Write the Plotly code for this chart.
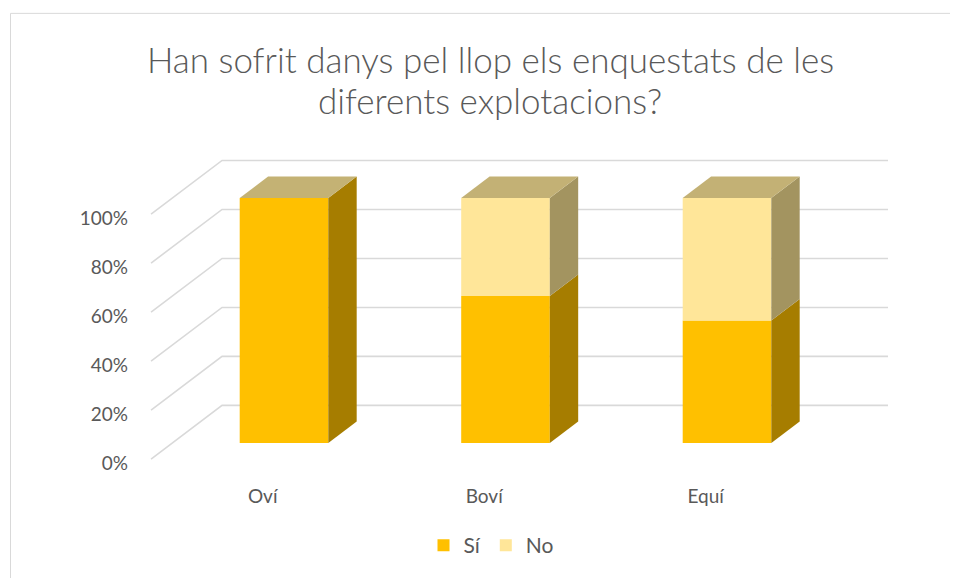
import plotly.graph_objects as go

# ---- data ----
categories = ["Oví", "Boví", "Equí"]
si_values = [100, 60, 50]
no_values = [0, 40, 50]
series_names = ["Sí", "No"]
tick_values = [0, 20, 40, 60, 80, 100]
tick_labels = ["0%", "20%", "40%", "60%", "80%", "100%"]
title_lines = ["Han sofrit danys pel llop els enquestats de les", "diferents explotacions?"]

# ---- styling / geometry constants ----
FRONT_COL = {"Sí": "#FFC000", "No": "#FFE699"}
SIDE_COL = {"Sí": "#A67D00", "No": "#A39460"}
TOP_COL = {"Sí": "#C4B274", "No": "#C3B175"}
GRID_COL = "#D9D9D9"
TXT = "#595959"
FONT = "Lato"

FLOOR_DX = 0.3205   # depth of the floor in x units
FLOOR_DY = 21.9     # depth of the floor in y units
FRONT = 0.3         # bar front position as a fraction of the depth
DEPTH = 0.4         # bar depth as a fraction of floor depth
BAR_W = 0.4
WALL_X = -0.504
WALL_END = 2.823
LABEL_DROP = 1.7    # y tick labels sit slightly below the gridline ends

sx, sy = FRONT * FLOOR_DX, FRONT * FLOOR_DY
ddx, ddy = DEPTH * FLOOR_DX, DEPTH * FLOOR_DY
pos = list(range(len(categories)))

# window geometry (page has an 8px body margin)
OFF = 8
W, H = 958, 578
L, R, T_, B = 140, 900, 150, 470
Y0_PX, Y_SCALE = 461.0, 2.465
X0_PX, X_SCALE = 262.7, 221.5

fig = go.Figure()

# front faces (stacked bars)
si_base = [sy] * len(pos)
no_base = [sy + s for s in si_values]
fig.add_trace(go.Bar(x=[p + sx for p in pos], y=si_values, base=si_base, width=BAR_W,
                     name=series_names[0], marker=dict(color=FRONT_COL["Sí"], line=dict(width=0)),
                     hoverinfo="skip"))
fig.add_trace(go.Bar(x=[p + sx for p in pos], y=no_values, base=no_base, width=BAR_W,
                     name=series_names[1], marker=dict(color=FRONT_COL["No"], line=dict(width=0)),
                     hoverinfo="skip"))

def poly(xs, ys, color):
    fig.add_trace(go.Scatter(x=xs + [xs[0]], y=ys + [ys[0]], mode="lines", fill="toself",
                             fillcolor=color, line=dict(width=0, color=color),
                             showlegend=False, hoverinfo="skip"))

for i, p in enumerate(pos):
    xl = p + sx - BAR_W / 2
    xr = p + sx + BAR_W / 2
    segs = [("Sí", 0, si_values[i]), ("No", si_values[i], si_values[i] + no_values[i])]
    top_name = None
    for name, b, t in segs:
        if t - b <= 0:
            continue
        top_name = name
        poly([xr, xr + ddx, xr + ddx, xr],
             [b + sy, b + sy + ddy, t + sy + ddy, t + sy], SIDE_COL[name])
    T = si_values[i] + no_values[i]
    poly([xl, xr, xr + ddx, xl + ddx],
         [T + sy, T + sy, T + sy + ddy, T + sy + ddy], TOP_COL[top_name])

# gridlines (side wall + back wall) as shapes below traces
shapes = []
for v in tick_values:
    shapes.append(dict(type="path", xref="x", yref="y", layer="below",
                       path=f"M {WALL_X},{v} L {WALL_X + FLOOR_DX},{v + FLOOR_DY} L {WALL_END},{v + FLOOR_DY}",
                       line=dict(color=GRID_COL, width=1.6)))

def px_x(px):
    return (px - L) / (R - L)
def px_y(py):
    return (B - py) / (B - T_)

# chart border
shapes.append(dict(type="rect", xref="paper", yref="paper", layer="below",
                   x0=px_x(10.5), x1=px_x(975), y0=px_y(600), y1=px_y(12.5),
                   line=dict(color="#D9D9D9", width=1)))

annotations = []
for k, line in enumerate(title_lines):
    annotations.append(dict(text=line, xref="paper", yref="paper", x=px_x(490), y=px_y(58 + 42 * k),
                            xanchor="center", yanchor="middle", showarrow=False,
                            font=dict(family=FONT, size=35, color=TXT, weight=300)))

fig.update_layout(
    width=W - OFF, height=H - OFF,
    margin=dict(l=L - OFF, r=W - R, t=T_ - OFF, b=H - B),
    paper_bgcolor="white", plot_bgcolor="white",
    barmode="overlay",
    showlegend=True,
    legend=dict(orientation="h", x=px_x(491.5), xanchor="center", y=px_y(548), yanchor="middle",
                font=dict(family=FONT, size=21, color=TXT), traceorder="normal"),
    xaxis=dict(range=[(L - X0_PX) / X_SCALE, (R - X0_PX) / X_SCALE], showgrid=False, zeroline=False,
               showline=False, tickvals=pos, ticktext=categories, ticks="",
               ticklabelstandoff=15,
               tickfont=dict(family=FONT, size=19, color=TXT), fixedrange=True),
    yaxis=dict(range=[(Y0_PX - B) / Y_SCALE, (Y0_PX - T_) / Y_SCALE], showgrid=False, zeroline=False,
               showline=False, tickvals=[v - LABEL_DROP for v in tick_values], ticktext=tick_labels,
               ticks="", ticklabelstandoff=11,
               tickfont=dict(family=FONT, size=19, color=TXT), fixedrange=True),
    shapes=shapes, annotations=annotations,
)

fig.write_html("out.html")
